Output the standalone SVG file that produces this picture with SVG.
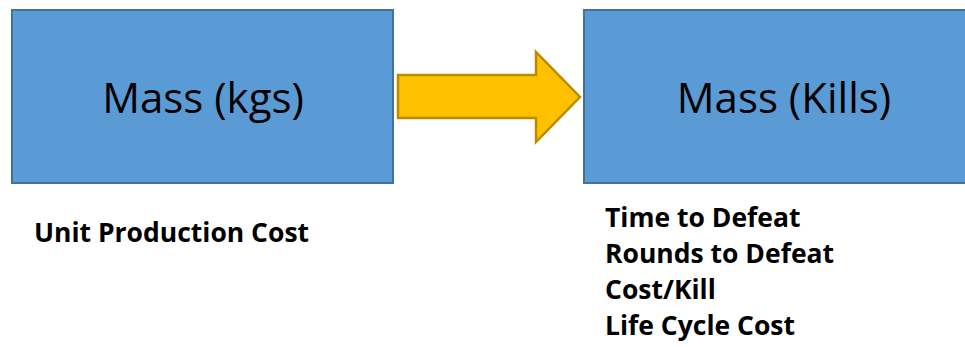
<svg xmlns="http://www.w3.org/2000/svg" width="965" height="347" viewBox="0 0 965 347">
<style>
.box{fill:#5B9BD5;stroke:#41719C;stroke-width:2}
.big{font-family:"Open Sans","Noto Sans",sans-serif;font-size:42px;fill:#000;text-anchor:middle}
.lbl{font-family:"Open Sans","Noto Sans",sans-serif;font-size:26.5px;font-weight:bold;fill:#000}
.arrow{fill:#FFC000;stroke:#BC8C00;stroke-width:2.5;stroke-linejoin:miter}
</style>
<rect width="965" height="347" fill="#fff"/>
<g id="node-kgs">
<rect class="box" x="12" y="10" width="381" height="173"/>
<text class="big" x="203" y="113">Mass (kgs)</text>
</g>
<g id="node-kills">
<rect class="box" x="584" y="10" width="400" height="173"/>
<text class="big" x="784" y="113">Mass (Kills)</text>
</g>
<g id="connectors">
<polygon class="arrow" points="398,75 536,75 536,52 580,97 536,142 536,118 398,118"/>
</g>
<g id="label-left">
<text class="lbl" x="34" y="242">Unit Production Cost</text>
</g>
<g id="label-right">
<text class="lbl" x="605" y="227">Time to Defeat</text>
<text class="lbl" x="605" y="263">Rounds to Defeat</text>
<text class="lbl" x="605" y="299">Cost/Kill</text>
<text class="lbl" x="605" y="335">Life Cycle Cost</text>
</g>
</svg>
